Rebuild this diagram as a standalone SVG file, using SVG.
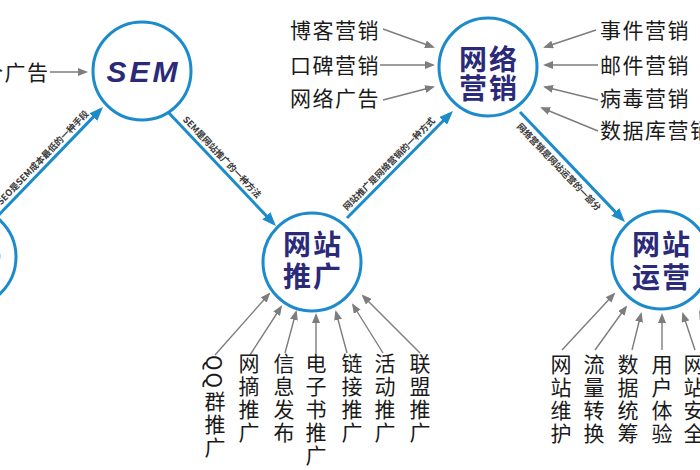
<svg xmlns="http://www.w3.org/2000/svg" width="700" height="470" viewBox="0 0 700 470">
<style>
.node{fill:#fff;stroke:#1c8bcb;stroke-width:3}
.nt{font-family:"Noto Sans CJK SC",sans-serif;font-weight:bold;font-size:28px;fill:#2b2a78;text-anchor:middle;letter-spacing:2px}
.en{font-family:"Liberation Sans",Arial,sans-serif;font-weight:bold;font-style:italic;font-size:30px;fill:#2b2a78;text-anchor:middle;letter-spacing:3px}
.blue{stroke:#1c8bcb;stroke-width:3;fill:none;marker-end:url(#ba)}
.gray{stroke:#7d7d7d;stroke-width:1.4;fill:none;marker-end:url(#ga)}
.lab{font-family:"Noto Sans CJK SC",sans-serif;font-size:21px;fill:#1a1a1a;letter-spacing:1.5px}
.vt{font-family:"Noto Sans CJK SC",sans-serif;font-size:21px;fill:#1a1a1a;writing-mode:vertical-rl;letter-spacing:2px}
.cl{font-family:"Noto Sans CJK SC",sans-serif;font-weight:bold;font-size:9px;fill:#3a3a3a;text-anchor:middle}
</style>
<defs>
<marker id="ba" viewBox="0 0 14 11" refX="10" refY="5.5" markerWidth="14" markerHeight="11" markerUnits="userSpaceOnUse" orient="auto"><path d="M0,0 L14,5.5 L0,11 z" fill="#1c8bcb"/></marker>
<marker id="ga" viewBox="0 0 10 8" refX="8" refY="4" markerWidth="10" markerHeight="8" markerUnits="userSpaceOnUse" orient="auto"><path d="M0,0 L10,4 L0,8 z" fill="#7d7d7d"/></marker>
</defs>
<rect width="700" height="470" fill="#fff"/>

<g id="connectors">
<line class="blue" x1="-8" y1="222" x2="100.2" y2="109.9"/>
<line class="blue" x1="168" y1="112" x2="273.2" y2="223.1"/>
<line class="blue" x1="347" y1="218" x2="450.2" y2="113.8"/>
<line class="blue" x1="520" y1="112" x2="622.2" y2="219.1"/>
<text class="cl" style="text-anchor:end" transform="translate(89.2,114.2) rotate(-46)">SEO是SEM成本最低的一种手段</text>
<text class="cl" transform="translate(219.8,159.4) rotate(46.5)">SEM是网站推广的一种方法</text>
<text class="cl" transform="translate(391.3,166.2) rotate(-45.3)">网站推广是网络营销的一种方式</text>
<text class="cl" transform="translate(556.6,169.2) rotate(46.3)">网络营销是网站运营的一部分</text>

<line class="gray" x1="50" y1="72" x2="86" y2="72"/>
<line class="gray" x1="383" y1="29" x2="433" y2="47"/>
<line class="gray" x1="380" y1="65" x2="433" y2="65"/>
<line class="gray" x1="383" y1="100" x2="433" y2="87"/>
<line class="gray" x1="596" y1="30" x2="545" y2="47"/>
<line class="gray" x1="598" y1="65" x2="545" y2="65"/>
<line class="gray" x1="598" y1="100" x2="545" y2="87"/>
<line class="gray" x1="598" y1="131" x2="542" y2="108"/>

<line class="gray" x1="215" y1="355" x2="269" y2="294"/>
<line class="gray" x1="250" y1="355" x2="281" y2="307"/>
<line class="gray" x1="285" y1="353" x2="296" y2="312"/>
<line class="gray" x1="316" y1="353" x2="316" y2="315"/>
<line class="gray" x1="347" y1="353" x2="336" y2="312"/>
<line class="gray" x1="383" y1="353" x2="353" y2="305"/>
<line class="gray" x1="420" y1="353" x2="363" y2="296"/>

<line class="gray" x1="562" y1="350" x2="614" y2="294"/>
<line class="gray" x1="595" y1="350" x2="626" y2="307"/>
<line class="gray" x1="632" y1="350" x2="641" y2="314"/>
<line class="gray" x1="662" y1="350" x2="662" y2="315"/>
<line class="gray" x1="695" y1="350" x2="683" y2="314"/>
<line class="gray" x1="720" y1="355" x2="700" y2="312"/>
</g>

<g id="node-seo">
<circle class="node" cx="-34" cy="257" r="50"/>
<text class="en" x="-32.5" y="268">SEO</text>
</g>
<g id="node-sem">
<circle class="node" cx="142" cy="71" r="49"/>
<text class="en" x="143.5" y="82">SEM</text>
</g>
<g id="node-tuiguang">
<circle class="node" cx="312" cy="262" r="49"/>
<text class="nt"><tspan x="313" y="255">网站</tspan><tspan x="313" y="287">推广</tspan></text>
</g>
<g id="node-yingxiao">
<circle class="node" cx="488" cy="67" r="49"/>
<text class="nt"><tspan x="489" y="70">网络</tspan><tspan x="489" y="99">营销</tspan></text>
</g>
<g id="node-yunying">
<circle class="node" cx="661" cy="260" r="49"/>
<text class="nt"><tspan x="662" y="255">网站</tspan><tspan x="662" y="288">运营</tspan></text>
</g>

<g id="labels-left">
<text class="lab" x="49.5" y="80" text-anchor="end">竞价广告</text>
</g>
<g id="labels-yingxiao">
<text class="lab" x="290" y="38">博客营销</text>
<text class="lab" x="290" y="73">口碑营销</text>
<text class="lab" x="290" y="106">网络广告</text>
<text class="lab" x="600" y="38">事件营销</text>
<text class="lab" x="600" y="73">邮件营销</text>
<text class="lab" x="600" y="106">病毒营销</text>
<text class="lab" x="600" y="138">数据库营销</text>
</g>
<g id="labels-tuiguang">
<text class="vt" x="215" y="355">QQ群推广</text>
<text class="vt" x="249" y="353">网摘推广</text>
<text class="vt" x="284" y="353">信息发布</text>
<text class="vt" x="316" y="353">电子书推广</text>
<text class="vt" x="352" y="353">链接推广</text>
<text class="vt" x="385" y="353">活动推广</text>
<text class="vt" x="420" y="353">联盟推广</text>
</g>
<g id="labels-yunying">
<text class="vt" x="561" y="354">网站维护</text>
<text class="vt" x="594" y="354">流量转换</text>
<text class="vt" x="628" y="354">数据统筹</text>
<text class="vt" x="662" y="354">用户体验</text>
<text class="vt" x="694" y="354">网站安全</text>
</g>
</svg>
